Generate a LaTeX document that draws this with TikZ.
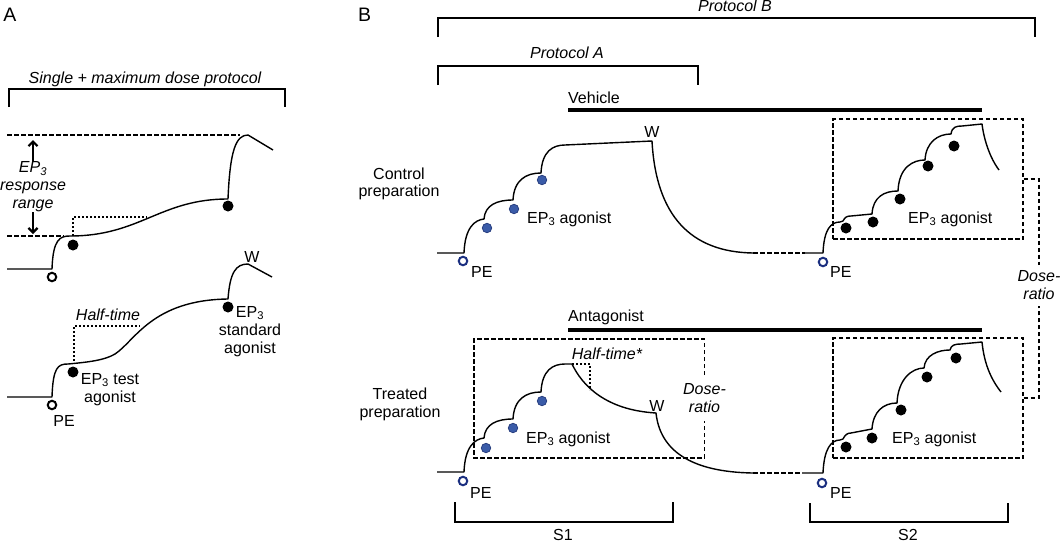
\documentclass[tikz,border=0pt]{standalone}
\usepackage{fontspec}
\setmainfont{Liberation Sans}
\usetikzlibrary{arrows.meta}
\definecolor{dotblue}{HTML}{3A5BA8}
\definecolor{dotedge}{HTML}{22387A}
\definecolor{peblue}{HTML}{1B2F80}
\begin{document}
\begin{tikzpicture}[x=1pt,y=-1pt,
  every node/.style={font=\fontsize{16}{18}\selectfont, inner sep=0pt},
  lab/.style={align=center},
  itl/.style={align=center, font=\fontsize{16}{18}\selectfont\itshape},
  panel/.style={font=\fontsize{19.5}{22}\selectfont},
  trc/.style={line width=1.4pt, line join=round},
  brk/.style={line width=1.6pt},
  dsh/.style={line width=1.3pt, dash pattern=on 4.5pt off 2.5pt},
  dtd/.style={line width=2.2pt, dash pattern=on 2pt off 2pt},
  barln/.style={line width=4.8pt},
  kdot/.style={circle, fill=black, minimum size=11pt},
  bdot/.style={circle, fill=dotblue, draw=dotedge, line width=0.7pt, minimum size=9.5pt},
  peo/.style={circle, draw=black, fill=white, line width=2pt, minimum size=8.5pt},
  bpeo/.style={peo, draw=peblue},
  dbox/.style={draw, dsh, minimum width=190pt, minimum height=120pt},
  arr/.style={line width=2pt, -{Straight Barb[length=4.5pt,width=9pt,line width=2.2pt]}}
]
\useasboundingbox (0,0) rectangle (1063,544);

% ---------------- Panel A ----------------
\node[panel, anchor=base] (labA) at (10,21) {A};
\node[itl, anchor=base] (sgl) at (145,83) {Single + maximum dose protocol};
\draw[brk] (9,107) -- (9,89) -- (285,89) -- (285,107);
\draw[dsh] (7,135) -- (240,135);
\draw[dsh] (7,236) -- (64,236);
\node[itl] (rng) at (33,187) {EP\textsubscript{3}\\response\\range};
\coordinate (rtop) at (33,140);
\coordinate (rbot) at (33,234);
\draw[arr] (rng.north) -- (rtop);
\draw[arr] (rng.south) -- (rbot);

\draw[trc] (7,269) -- (52,269)
  .. controls +(1,-30) and +(-10,0) .. (70,236)
  .. controls (140,236) and (160,199) .. (228,199)
  .. controls (230,150) and (236,135) .. (248,135) -- (273,150);
\draw[dtd] (73,236) -- (73,217) -- (147,217);
\node[peo] (peA1) at (52,277) {};
\node[kdot] (dA1) at (73,245) {};
\node[kdot] (dA2) at (228,206) {};

\draw[trc] (7,397) -- (52,397)
  .. controls +(1,-30) and +(-10,0) .. (68,364)
  .. controls (90,362) and (105,360) .. (115,354)
  .. controls (135,341) and (152,300) .. (228,299)
  .. controls (230,272) and (236,264) .. (248,264) -- (272,277);
\draw[dtd] (74,361) -- (74,326) -- (140,326);
\node[anchor=base] (WA) at (252,262) {W};
\node[itl, anchor=base] (htA) at (108,320.5) {Half-time};
\node[peo] (peA2) at (52,405) {};
\node[anchor=base] (peLA) at (64,426.5) {PE};
\node[kdot] (dA3) at (73,372) {};
\node[lab] (testL) at (110,389.5) {EP\textsubscript{3} test\\agonist};
\node[kdot] (dA4) at (228,307) {};
\node[lab] (stdL) at (250,331.5) {EP\textsubscript{3}\\standard\\agonist};

% ---------------- Panel B ----------------
\node[panel, anchor=base] (labB) at (364.5,21) {B};
\draw[brk] (438,37) -- (438,18) -- (1035,18) -- (1035,37);
\node[itl, anchor=base] (pB) at (735,11) {Protocol B};
\draw[brk] (438,85) -- (438,66) -- (698,66) -- (698,85);
\node[itl, anchor=base] (pA) at (567,58) {Protocol A};
\node[anchor=base west] (veh) at (568,103) {Vehicle};
\draw[barln] (568,110) -- (982,110);
\node[anchor=base west] (ant) at (568,321) {Antagonist};
\draw[barln] (568,330) -- (982,330);

\node[lab, font=\fontsize{16}{17.5}\selectfont] (ctrl) at (399,184) {Control\\preparation};
\node[lab, font=\fontsize{16}{17.5}\selectfont] (trt) at (400,404.5) {Treated\\preparation};

% control S1
\draw[trc] (437,253) -- (464,253)
  .. controls +(1,-26) and +(-9,1) .. (484,219)
  .. controls +(1,-14) and +(-16,0) .. (513,200)
  .. controls +(1,-20) and +(-15,0) .. (541,173)
  .. controls +(1,-22) and +(-12,0) .. (565,145)
  -- (652,141)
  .. controls (656,215) and (690,252) .. (753,253);
\draw[dsh] (753,253) -- (805,253);
\node[bdot] (cb1) at (487,228) {};
\node[bdot] (cb2) at (514,209) {};
\node[bdot] (cb3) at (542,180) {};
\node[bpeo] (cpe1) at (463,261) {};
\node[anchor=base west] (cpeL1) at (471,277) {PE};
\node[anchor=base west] (cag1) at (527,223) {EP\textsubscript{3} agonist};
\node[anchor=base] (cW) at (652,137) {W};

% control S2
\node[dbox] (box1) at (928,179) {};
\draw[trc] (805,253) -- (823,253)
  .. controls +(1,-24) and +(-9,0) .. (840,222)
  -- (843,221) .. controls +(2,-4) and +(-4,0) .. (851,216) -- (872,214)
  .. controls +(1,-17) and +(-14,0) .. (898,191)
  .. controls +(1,-24) and +(-12,0) .. (925,160)
  .. controls +(1,-18) and +(-13,0) .. (951,134)
  .. controls +(1,-7) and +(-6,0) .. (962,126) -- (982,124)
  .. controls (984,140) and (990,158) .. (999,170);
\node[kdot] (ck1) at (846,228) {};
\node[kdot] (ck2) at (873,222) {};
\node[kdot] (ck3) at (900,199) {};
\node[kdot] (ck4) at (928,166) {};
\node[kdot] (ck5) at (954,146) {};
\node[bpeo] (cpe2) at (823,262) {};
\node[anchor=base west] (cpeL2) at (830,277) {PE};
\node[anchor=base west] (cag2) at (908,223) {EP\textsubscript{3} agonist};

% treated S1
\draw[trc] (437,472) -- (464,472)
  .. controls +(1,-26) and +(-9,1) .. (484,438)
  .. controls +(1,-14) and +(-16,0) .. (513,419)
  .. controls +(1,-20) and +(-15,0) .. (541,392)
  .. controls +(1,-22) and +(-12,0) .. (565,364)
  -- (572,364)
  .. controls (582,385) and (605,410) .. (656,413)
  .. controls (660,450) and (690,472) .. (753,473);
\draw[dsh] (753,473) -- (802,473);
\draw[dtd] (572,364) -- (590,364) -- (590,390);
\node[itl, anchor=base] (htB) at (607,359) {Half-time*};
\node[anchor=base] (tW) at (657,411) {W};
\node[bdot] (tb1) at (486,448) {};
\node[bdot] (tb2) at (513,428) {};
\node[bdot] (tb3) at (542,401) {};
\node[bpeo] (tpe1) at (463,481) {};
\node[anchor=base west] (tpeL1) at (470,498) {PE};
\node[anchor=base west] (tag1) at (526,443) {EP\textsubscript{3} agonist};
\node[itl, inner ysep=8pt] (dr1) at (704.5,398) {Dose-\\ratio};
\draw[dsh] (dr1.north) |- (474,339) -- (474,458) -| (dr1.south);

% treated S2
\node[dbox] (box2) at (928,398) {};
\draw[trc] (802,473) -- (823,473)
  .. controls +(1,-24) and +(-9,0) .. (840,440)
  -- (843,439) .. controls +(2,-4) and +(-4,0) .. (851,433) -- (872,429)
  .. controls +(1,-17) and +(-14,0) .. (897,403)
  .. controls +(1,-24) and +(-12,0) .. (924,368)
  .. controls +(1,-13) and +(-12,0) .. (950,350)
  .. controls +(1,-5) and +(-6,0) .. (961,344) -- (982,342)
  .. controls (984,362) and (990,378) .. (1001,392);
\node[kdot] (tk1) at (846,447) {};
\node[kdot] (tk2) at (872,438) {};
\node[kdot] (tk3) at (901,410) {};
\node[kdot] (tk4) at (927,377) {};
\node[kdot] (tk5) at (956,358) {};
\node[bpeo] (tpe2) at (822,483) {};
\node[anchor=base west] (tpeL2) at (830,498) {PE};
\node[anchor=base west] (tag2) at (892,443) {EP\textsubscript{3} agonist};

% dose-ratio between S2 boxes
\node[itl, inner ysep=6pt] (dr2) at (1039,285.5) {Dose-\\ratio};
\draw[dsh] (box1.east) -| (dr2.north);
\draw[dsh] (box2.east) -| (dr2.south);

% S1 / S2 brackets
\draw[brk] (455,502) -- (455,522) -- (673,522) -- (673,502);
\node[anchor=base] (s1) at (563,540) {S1};
\draw[brk] (810,503) -- (810,522) -- (1008,522) -- (1008,503);
\node[anchor=base] (s2) at (908,540) {S2};
\end{tikzpicture}
\end{document}
